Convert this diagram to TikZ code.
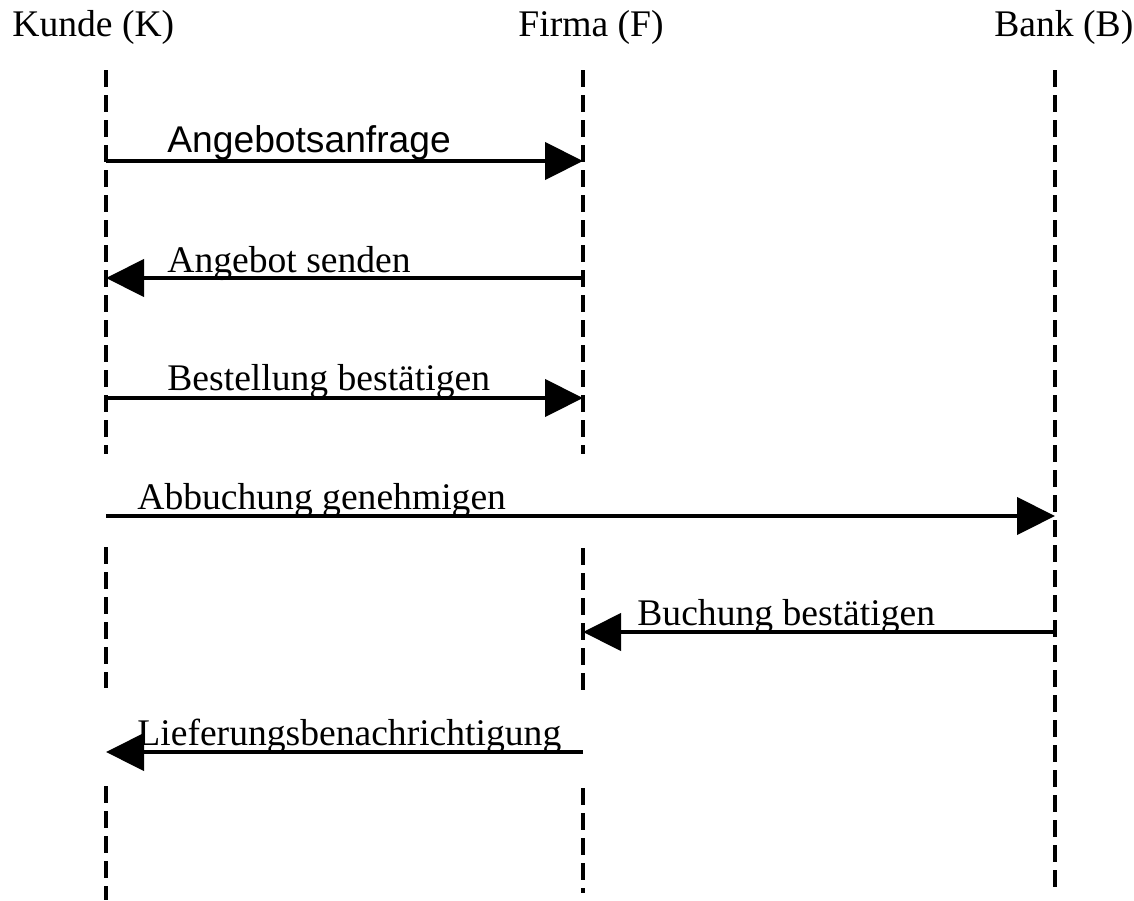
\documentclass[tikz,border=0pt]{standalone}
\usepackage{fontspec}
\setmainfont{Liberation Serif}
\newfontfamily\arialfont{Liberation Sans}
\usetikzlibrary{arrows.meta}
\begin{document}
\begin{tikzpicture}[x=0.5pt,y=-0.5pt,
  lifeline/.style={line width=2pt, dash pattern=on 8.5pt off 4pt},
  msg/.style={line width=2.1pt, -{Triangle[length=19pt,width=18.5pt]}},
  head/.style={anchor=base west, inner sep=0pt, font=\fontsize{18.8}{22}\selectfont},
  lbl/.style={anchor=base west, inner sep=0pt, font=\fontsize{18.8}{22}\selectfont}]
\useasboundingbox[fill=white] (0,0) rectangle (1134,900);
% headers
\node[head] (hk) at (12,36) {Kunde (K)};
\node[head] (hf) at (518,36) {Firma (F)};
\node[head] (hb) at (994,36) {Bank (B)};
% lifeline coordinates
\coordinate (k0) at (106,70);
\coordinate (k1) at (106,161);
\coordinate (k2) at (106,278);
\coordinate (k3) at (106,398);
\coordinate (k3e) at (106,454);
\coordinate (k4s) at (106,547);
\coordinate (k4) at (106,516);
\coordinate (k5e) at (106,688);
\coordinate (k6) at (106,752);
\coordinate (k6s) at (106,786);
\coordinate (kend) at (106,900);
\coordinate (f0) at (583,70);
\coordinate (f1) at (583,161);
\coordinate (f2) at (583,278);
\coordinate (f3) at (583,398);
\coordinate (f3e) at (583,454);
\coordinate (f5s) at (583,548);
\coordinate (f5) at (583,632);
\coordinate (f5e) at (583,690);
\coordinate (f6) at (583,752);
\coordinate (f6s) at (583,788);
\coordinate (fend) at (583,893);
\coordinate (b0) at (1055,70);
\coordinate (b4) at (1055,516);
\coordinate (b5) at (1055,632);
\coordinate (bend) at (1055,893);
% lifelines
\draw[lifeline] (k0) -- (k3e);
\draw[lifeline] (k4s) -- (k5e);
\draw[lifeline] (k6s) -- (kend);
\draw[lifeline] (f0) -- (f3e);
\draw[lifeline] (f5s) -- (f5e);
\draw[lifeline] (f6s) -- (fend);
\draw[lifeline] (b0) -- (bend);
% messages
\draw[msg] (k1) -- (f1);
\node[lbl, font=\arialfont\fontsize{18.6}{22}\selectfont] (m1) at (167,152) {Angebotsanfrage};
\draw[msg] (f2) -- (k2);
\node[lbl] (m2) at (167,272) {Angebot senden};
\draw[msg] (k3) -- (f3);
\node[lbl] (m3) at (167,390) {Bestellung bestätigen};
\draw[msg] (k4) -- (b4);
\node[lbl] (m4) at (137,509) {Abbuchung genehmigen};
\draw[msg] (b5) -- (f5);
\node[lbl] (m5) at (637,625) {Buchung bestätigen};
\draw[msg] (f6) -- (k6);
\node[lbl] (m6) at (137,745) {Lieferungsbenachrichtigung};
\end{tikzpicture}
\end{document}
